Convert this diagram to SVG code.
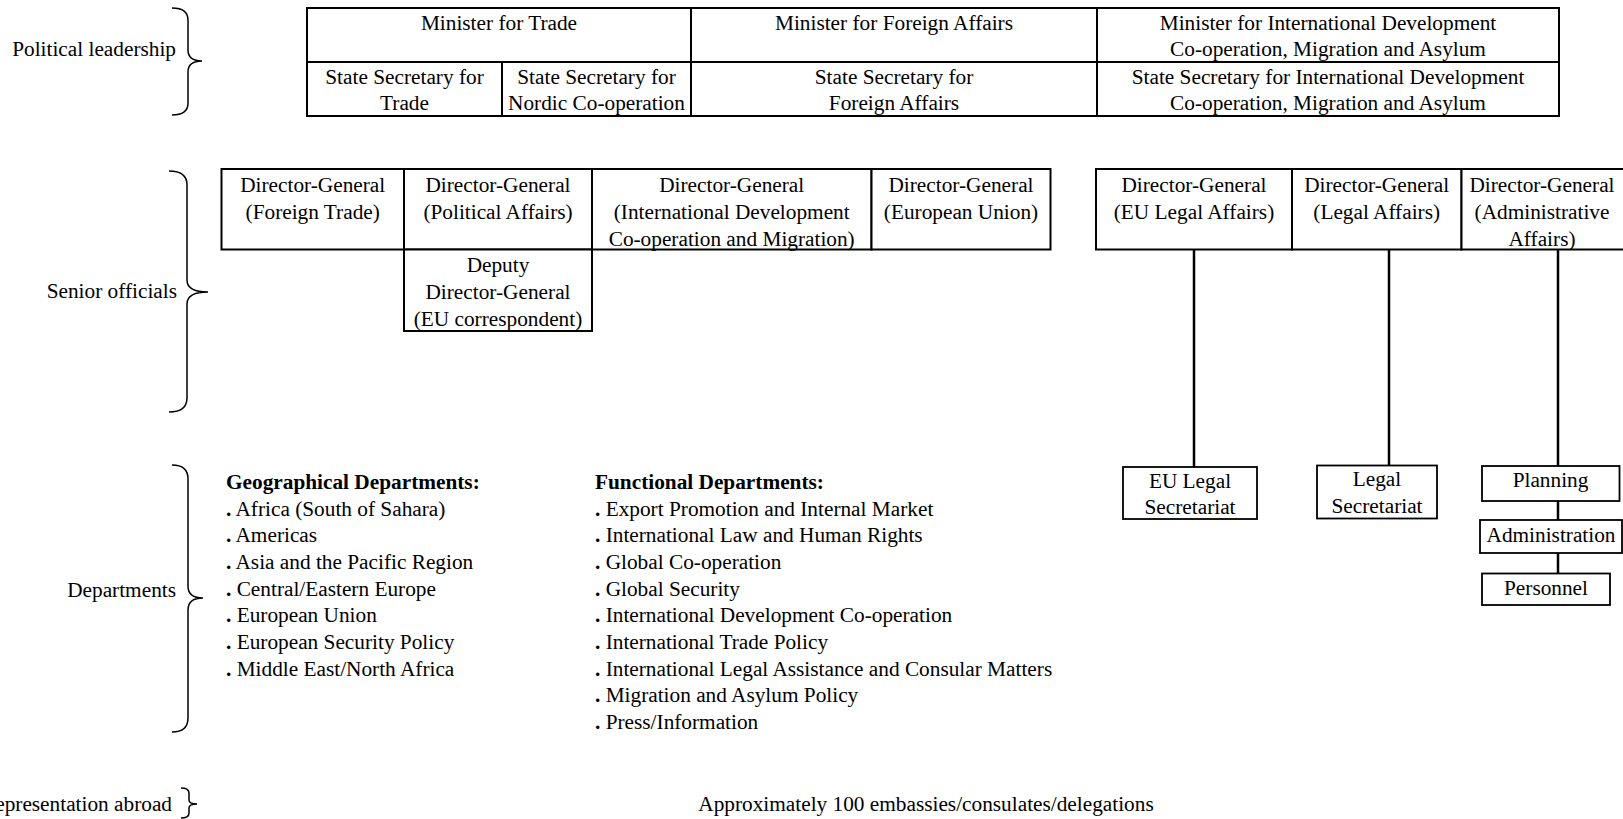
<svg xmlns="http://www.w3.org/2000/svg" width="1623" height="819" viewBox="0 0 1623 819">
<style>
text{font-size:21.3px;fill:#000}
.c{text-anchor:middle}
.e{text-anchor:end}
.b{font-weight:bold}
rect.cell{fill:#fff;stroke:#000;stroke-width:2}
rect.box{fill:#fff;stroke:#000;stroke-width:1.8}
.brace{fill:none;stroke:#000;stroke-width:1.5}
.conn line{stroke:#000;stroke-width:2.5}
</style>
<rect width="1623" height="819" fill="#fff"/>
<g font-family="Liberation Serif, Times New Roman, Times, serif">

<g id="label-political">
<text class="e" x="176" y="56">Political leadership</text>
<path class="brace" d="M172,8 Q188,8 188,20 L188,50 Q188,61 202,61 Q188,61 188,72 L188,103 Q188,115 172,115"/>
</g>
<g id="label-senior">
<text class="e" x="177" y="298">Senior officials</text>
<path class="brace" d="M169,171 Q187,171 187,185 L187,280 Q187,292 208,292 Q187,292 187,304 L187,398 Q187,412 169,412"/>
</g>
<g id="label-departments">
<text class="e" x="176" y="597">Departments</text>
<path class="brace" d="M172,465 Q188,465 188,479 L188,586 Q188,598 203,598 Q188,598 188,610 L188,718 Q188,732 172,732"/>
</g>
<g id="label-representation">
<text class="e" x="172" y="811">Representation abroad</text>
<path class="brace" d="M181,788 Q189,788 189,793 L189,800 Q189,804 197,804 Q189,804 189,808 L189,813 Q189,818 181,818"/>
</g>

<g id="min-trade"><rect class="cell" x="307" y="8" width="384" height="54"/><text class="c" x="499" y="29.5">Minister for Trade</text></g>
<g id="min-foreign"><rect class="cell" x="691" y="8" width="406" height="54"/><text class="c" x="894" y="29.5">Minister for Foreign Affairs</text></g>
<g id="min-dev"><rect class="cell" x="1097" y="8" width="462" height="54"/><text class="c" x="1328" y="29.5">Minister for International Development</text><text class="c" x="1328" y="56">Co-operation, Migration and Asylum</text></g>
<g id="ss-trade"><rect class="cell" x="307" y="62" width="195" height="54"/><text class="c" x="404.5" y="83.5">State Secretary for</text><text class="c" x="404.5" y="110">Trade</text></g>
<g id="ss-nordic"><rect class="cell" x="502" y="62" width="189" height="54"/><text class="c" x="596.5" y="83.5">State Secretary for</text><text class="c" x="596.5" y="110">Nordic Co-operation</text></g>
<g id="ss-foreign"><rect class="cell" x="691" y="62" width="406" height="54"/><text class="c" x="894" y="83.5">State Secretary for</text><text class="c" x="894" y="110">Foreign Affairs</text></g>
<g id="ss-dev"><rect class="cell" x="1097" y="62" width="462" height="54"/><text class="c" x="1328" y="83.5">State Secretary for International Development</text><text class="c" x="1328" y="110">Co-operation, Migration and Asylum</text></g>

<g id="dg-foreign-trade"><rect class="cell" x="221.5" y="169" width="182.5" height="80.5"/><text class="c" x="312.7" y="191.5">Director-General</text><text class="c" x="312.7" y="218.5">(Foreign Trade)</text></g>
<g id="dg-political"><rect class="cell" x="404" y="169" width="188" height="80.5"/><text class="c" x="498" y="191.5">Director-General</text><text class="c" x="498" y="218.5">(Political Affairs)</text></g>
<g id="dg-development"><rect class="cell" x="592" y="169" width="279.5" height="80.5"/><text class="c" x="731.7" y="191.5">Director-General</text><text class="c" x="731.7" y="218.5">(International Development</text><text class="c" x="731.7" y="245.5">Co-operation and Migration)</text></g>
<g id="dg-eu"><rect class="cell" x="871.5" y="169" width="179" height="80.5"/><text class="c" x="961" y="191.5">Director-General</text><text class="c" x="961" y="218.5">(European Union)</text></g>
<g id="deputy-dg"><rect class="cell" x="404" y="249.5" width="188" height="81.5"/><text class="c" x="498" y="271.5">Deputy</text><text class="c" x="498" y="298.5">Director-General</text><text class="c" x="498" y="325.5">(EU correspondent)</text></g>

<g id="dg-eu-legal"><rect class="cell" x="1096" y="169" width="196" height="80.5"/><text class="c" x="1194" y="191.5">Director-General</text><text class="c" x="1194" y="218.5">(EU Legal Affairs)</text></g>
<g id="dg-legal"><rect class="cell" x="1292" y="169" width="169.5" height="80.5"/><text class="c" x="1376.7" y="191.5">Director-General</text><text class="c" x="1376.7" y="218.5">(Legal Affairs)</text></g>
<g id="dg-admin"><rect class="cell" x="1461.5" y="169" width="164" height="80.5"/><text class="c" x="1542" y="191.5">Director-General</text><text class="c" x="1542" y="218.5">(Administrative</text><text class="c" x="1542" y="245.5">Affairs)</text></g>

<g class="conn" id="connectors">
<line x1="1194" y1="249.5" x2="1194" y2="467"/>
<line x1="1389" y1="249.5" x2="1389" y2="465.5"/>
<line x1="1558" y1="249.5" x2="1558" y2="466"/>
<line x1="1558" y1="501" x2="1558" y2="520"/>
<line x1="1558" y1="553" x2="1558" y2="573.5"/>
</g>

<g id="eu-legal-secretariat"><rect class="box" x="1123" y="467" width="134" height="52"/><text class="c" x="1190" y="487.5">EU Legal</text><text class="c" x="1190" y="514">Secretariat</text></g>
<g id="legal-secretariat"><rect class="box" x="1317" y="465.5" width="120" height="53"/><text class="c" x="1377" y="486">Legal</text><text class="c" x="1377" y="512.5">Secretariat</text></g>
<g id="planning"><rect class="box" x="1482" y="466" width="137.5" height="35"/><text class="c" x="1550.5" y="487">Planning</text></g>
<g id="administration"><rect class="box" x="1480" y="520" width="142" height="33"/><text class="c" x="1551" y="541.5">Administration</text></g>
<g id="personnel"><rect class="box" x="1482" y="573.5" width="128" height="31.5"/><text class="c" x="1546" y="595">Personnel</text></g>

<g id="geographical-departments">
<text class="b" x="226" y="489">Geographical Departments:</text>
<text x="226" y="515.7"><tspan class="b">.</tspan> Africa (South of Sahara)</text>
<text x="226" y="542.3"><tspan class="b">.</tspan> Americas</text>
<text x="226" y="569"><tspan class="b">.</tspan> Asia and the Pacific Region</text>
<text x="226" y="595.6"><tspan class="b">.</tspan> Central/Eastern Europe</text>
<text x="226" y="622.3"><tspan class="b">.</tspan> European Union</text>
<text x="226" y="649"><tspan class="b">.</tspan> European Security Policy</text>
<text x="226" y="675.6"><tspan class="b">.</tspan> Middle East/North Africa</text>
</g>
<g id="functional-departments">
<text class="b" x="595" y="489">Functional Departments:</text>
<text x="595" y="515.7"><tspan class="b">.</tspan> Export Promotion and Internal Market</text>
<text x="595" y="542.3"><tspan class="b">.</tspan> International Law and Human Rights</text>
<text x="595" y="569"><tspan class="b">.</tspan> Global Co-operation</text>
<text x="595" y="595.6"><tspan class="b">.</tspan> Global Security</text>
<text x="595" y="622.3"><tspan class="b">.</tspan> International Development Co-operation</text>
<text x="595" y="649"><tspan class="b">.</tspan> International Trade Policy</text>
<text x="595" y="675.6"><tspan class="b">.</tspan> International Legal Assistance and Consular Matters</text>
<text x="595" y="702.2"><tspan class="b">.</tspan> Migration and Asylum Policy</text>
<text x="595" y="729"><tspan class="b">.</tspan> Press/Information</text>
</g>

<g id="representation">
<text class="c" x="926" y="811">Approximately 100 embassies/consulates/delegations</text>
</g>
</g>
</svg>
